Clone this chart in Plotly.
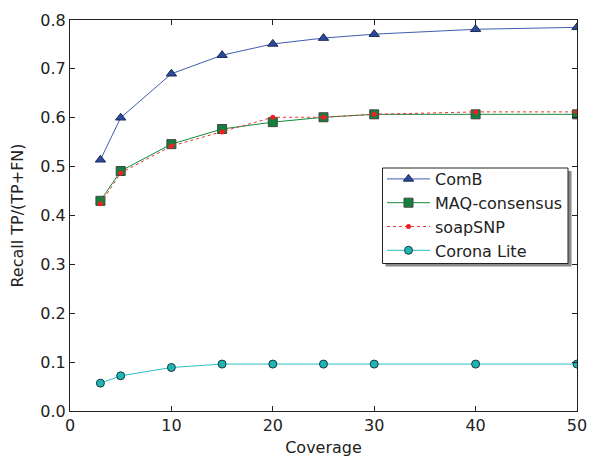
import plotly.graph_objects as go

coverage = [3, 5, 10, 15, 20, 25, 30, 40, 50]
comb = [0.514, 0.600, 0.690, 0.728, 0.751, 0.763, 0.771, 0.781, 0.785]
maq = [0.430, 0.491, 0.546, 0.577, 0.591, 0.601, 0.607, 0.607, 0.607]
soap = [0.424, 0.487, 0.542, 0.571, 0.601, 0.601, 0.607, 0.612, 0.612]
corona = [0.057, 0.072, 0.089, 0.096, 0.096, 0.096, 0.096, 0.096, 0.096]
xticks = [0, 10, 20, 30, 40, 50]
yticks = [0.0, 0.1, 0.2, 0.3, 0.4, 0.5, 0.6, 0.7, 0.8]

FONT = "DejaVu Sans"
fig = go.Figure()
fig.add_trace(go.Scatter(x=coverage, y=comb, name="ComB", mode="lines+markers",
    line=dict(color="#3f5cb0", width=1),
    marker=dict(symbol="triangle-up", size=9, color="#2b4a9c", line=dict(color="#1a2a50", width=1))))
fig.add_trace(go.Scatter(x=coverage, y=maq, name="MAQ-consensus", mode="lines+markers",
    line=dict(color="#138a3e", width=1),
    marker=dict(symbol="square", size=9, color="#12803c", line=dict(color="#444444", width=1))))
fig.add_trace(go.Scatter(x=coverage, y=soap, name="soapSNP", mode="lines+markers",
    line=dict(color="#f03030", width=1, dash="dot"),
    marker=dict(symbol="circle", size=5, color="#f02020", line=dict(width=0))))
fig.add_trace(go.Scatter(x=coverage, y=corona, name="Corona Lite", mode="lines+markers",
    line=dict(color="#2abfbf", width=1),
    marker=dict(symbol="circle", size=8, color="#1fb5b5", line=dict(color="#1a3a3a", width=1))))

axis_common = dict(showline=True, linecolor="#222222", linewidth=1, mirror="ticks",
                   ticks="inside", ticklen=5, tickcolor="#222222", showgrid=False,
                   zeroline=False, automargin=False,
                   tickfont=dict(family=FONT, size=16, color="#222222"))
fig.update_xaxes(range=[0, 50], tickvals=xticks, ticktext=[str(v) for v in xticks],
                 title=dict(text="Coverage", font=dict(family=FONT, size=16, color="#222222"), standoff=16),
                 **axis_common)
fig.update_yaxes(range=[0, 0.8], tickvals=yticks, ticktext=[f"{v:.1f}" for v in yticks],
                 title=dict(text="Recall TP/(TP+FN)", font=dict(family=FONT, size=16, color="#222222"), standoff=12),
                 **axis_common)

# plot area spans 70..577 px horizontally, 20..411 px vertically
def px_x(p):
    return (p - 70) / 507

def px_y(p):
    return (411 - p) / 391

# legend shadow and frame
fig.add_shape(type="rect", xref="paper", yref="paper",
              x0=px_x(385.5), x1=px_x(571.5), y0=px_y(266.5), y1=px_y(171),
              fillcolor="#8a8a8a", line=dict(width=0), layer="above")
fig.add_shape(type="rect", xref="paper", yref="paper",
              x0=px_x(382.5), x1=px_x(568), y0=px_y(263.5), y1=px_y(168),
              fillcolor="white", line=dict(color="#222222", width=1), layer="above")

fig.update_layout(
    width=589, height=457,
    margin=dict(l=70, r=12, t=20, b=46),
    plot_bgcolor="white", paper_bgcolor="white",
    font=dict(family=FONT, size=16, color="#222222"),
    legend=dict(x=px_x(382), y=px_y(162), xanchor="left", yanchor="top",
                bgcolor="rgba(0,0,0,0)", borderwidth=0, font=dict(family=FONT, size=16),
                itemwidth=43, tracegroupgap=0),
    showlegend=True,
)
fig.write_html("out.html", config={"displayModeBar": False},
               post_script="document.body.style.margin='0';document.body.style.overflow='hidden';")
